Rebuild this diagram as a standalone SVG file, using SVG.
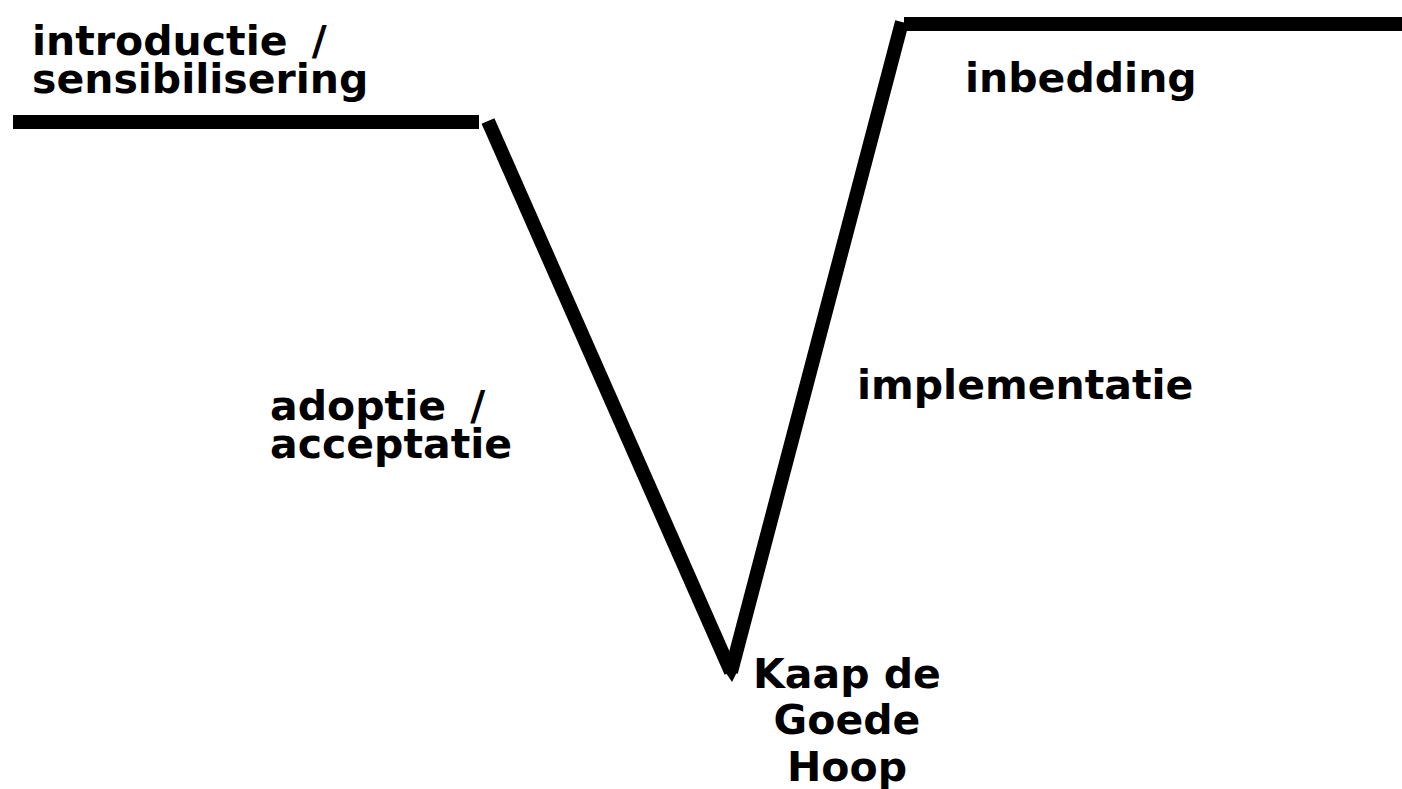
<svg xmlns="http://www.w3.org/2000/svg" width="1402" height="789" viewBox="0 0 1402 789">
<style>
.lbl{font-family:"DejaVu Sans","Verdana",sans-serif;font-weight:bold;font-size:41px;fill:#000;word-spacing:10px}
.ln{fill:none;stroke:#000;stroke-width:14}
</style>
<rect width="1402" height="789" fill="#fff"/>
<g id="curve">
<line class="ln" x1="13" y1="122" x2="479" y2="122"/>
<line class="ln" x1="488" y1="121" x2="731" y2="672" stroke-width="13"/>
<line class="ln" x1="731" y1="672" x2="902" y2="22" stroke-width="13"/>
<polygon points="724,670 738,670 732,682" fill="#000"/>
<line class="ln" x1="904" y1="24" x2="1402" y2="24"/>
</g>
<g id="phase-introductie">
<text class="lbl" x="32" y="55">introductie /</text>
<text class="lbl" x="32" y="93">sensibilisering</text>
</g>
<g id="phase-adoptie">
<text class="lbl" x="270" y="420">adoptie /</text>
<text class="lbl" x="270" y="458">acceptatie</text>
</g>
<g id="phase-kaap">
<text class="lbl" x="847" y="688" text-anchor="middle" style="word-spacing:0">Kaap de</text>
<text class="lbl" x="847" y="734" text-anchor="middle">Goede</text>
<text class="lbl" x="847" y="781" text-anchor="middle">Hoop</text>
</g>
<g id="phase-implementatie">
<text class="lbl" x="857" y="399">implementatie</text>
</g>
<g id="phase-inbedding">
<text class="lbl" x="965" y="92">inbedding</text>
</g>
</svg>
